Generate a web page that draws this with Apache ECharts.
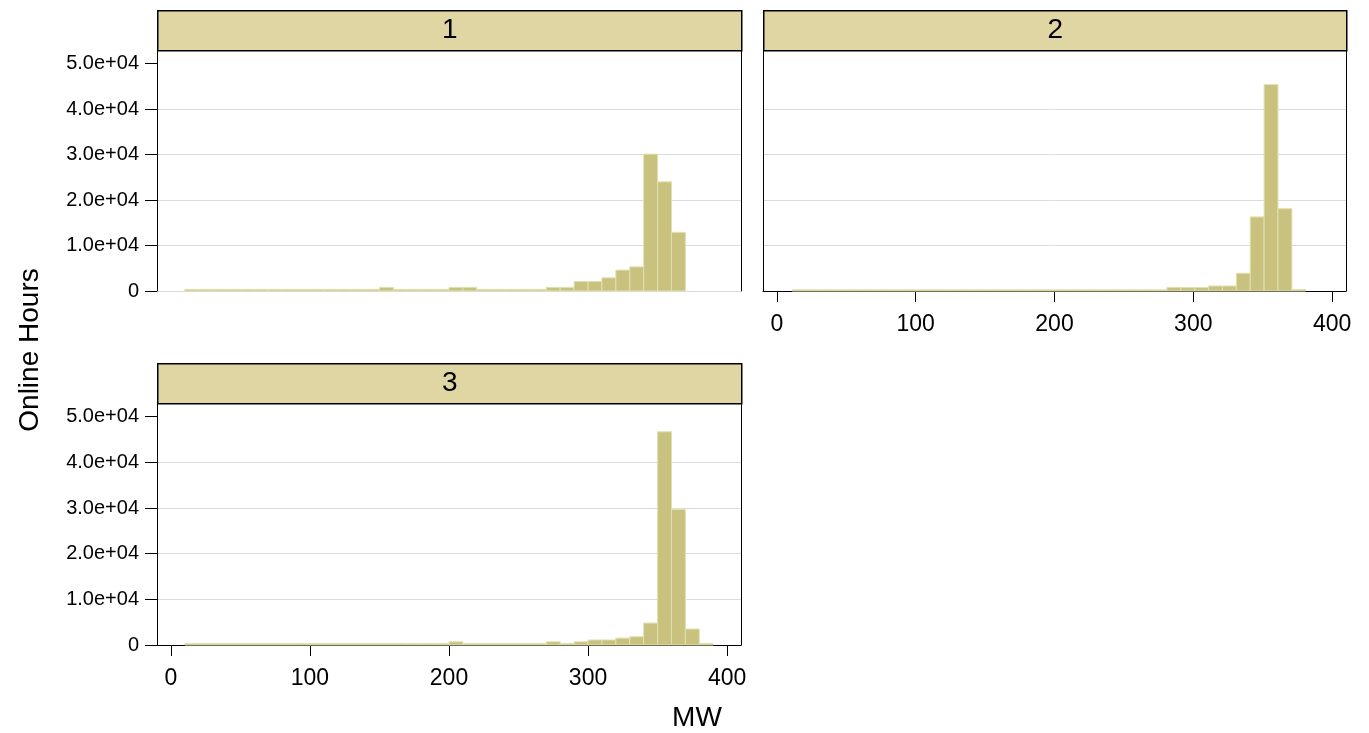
<!DOCTYPE html>
<html>
<head>
<meta charset="utf-8">
<script src="https://cdn.jsdelivr.net/npm/echarts@6/dist/echarts.min.js"></script>
<style>
html,body{margin:0;padding:0;background:#fff;}
#chart{width:1369px;height:733px;}
</style>
</head>
<body>
<div id="chart"></div>
<script>
// ---- data ----
const panelNames = ['1', '2', '3'];
const binWidth = 10;

// Panel 1: bins 10..370 (left edges)
const bins1 = [10,20,30,40,50,60,70,80,90,100,110,120,130,140,150,160,170,180,190,200,210,220,230,240,250,260,270,280,290,300,310,320,330,340,350,360];
const counts1 = [350,350,350,350,350,350,350,350,350,350,350,350,350,350,800,350,350,350,350,800,800,350,350,350,350,350,800,800,2100,2100,2900,4600,5300,30100,24000,12900];

// Panel 2: bins 11..381 (left edges)
const bins2 = [11,21,31,41,51,61,71,81,91,101,111,121,131,141,151,161,171,181,191,201,211,221,231,241,251,261,271,281,291,301,311,321,331,341,351,361,371];
const counts2 = [250,250,250,250,250,250,250,250,250,250,250,250,250,250,250,250,250,250,250,250,250,250,250,250,250,250,250,800,750,750,1100,1100,3900,16300,45400,18100,300];

// Panel 3: bins 10..390 (left edges)
const bins3 = [10,20,30,40,50,60,70,80,90,100,110,120,130,140,150,160,170,180,190,200,210,220,230,240,250,260,270,280,290,300,310,320,330,340,350,360,370,380];
const counts3 = [300,300,300,300,300,300,300,300,300,300,300,300,300,300,300,300,300,300,300,700,300,300,300,300,300,300,700,300,700,1100,1100,1500,1800,4800,46700,29700,3500,300];

const xTicks = [0, 100, 200, 300, 400];
const yTicks = [0, 10000, 20000, 30000, 40000, 50000];
const xTitle = 'MW';
const yTitle = 'Online Hours';

// ---- styles ----
const FONT = 'Liberation Sans, Arial, sans-serif';
const barFill = '#c8c27e';
const barStroke = '#e2dfb2';
const stripFill = '#e0d6a3';
const gridGrey = '#dcdcdc';

const grids = [
  {left: 157, top: 50, width: 584, height: 241},
  {left: 763, top: 50, width: 583, height: 241},
  {left: 157, top: 403, width: 584, height: 242}
];

function fmtY(v) {
  if (v === 0) return '0';
  let s = v.toExponential(1);
  return s.replace(/e([+-])(\d)$/, 'e$10$2');
}

const chart = echarts.init(document.getElementById('chart'), null, {renderer: 'canvas'});

const xAxes = [], yAxes = [], series = [];
const panelData = [[bins1, counts1], [bins2, counts2], [bins3, counts3]];
const showXLabels = [false, true, true];
const showYLabels = [true, false, true];

panelData.forEach(([bins, counts], i) => {
  xAxes.push({
    type: 'value', gridIndex: i, min: -10, max: 410, position: 'bottom',
    axisLine: {show: showXLabels[i], onZero: false, lineStyle: {color: '#000', width: 1}},
    axisTick: {show: showXLabels[i], length: 11, lineStyle: {color: '#000'}, customValues: xTicks},
    axisLabel: {show: showXLabels[i], customValues: xTicks, color: '#000', fontSize: 23, fontFamily: FONT, margin: 22},
    splitLine: {show: false}
  });
  yAxes.push({
    type: 'value', gridIndex: i, min: 0, max: 53000, interval: 10000, position: 'left',
    axisLine: {show: true, onZero: false, lineStyle: {color: '#000', width: 1}},
    axisTick: {show: showYLabels[i], length: 12, lineStyle: {color: '#000'}, customValues: yTicks},
    axisLabel: {show: showYLabels[i], customValues: yTicks, formatter: fmtY, color: '#000', fontSize: 20, fontFamily: FONT, margin: 18},
    splitLine: {show: true, showMaxLine: false, lineStyle: {color: gridGrey, width: 1}}
  });
  yAxes.push({
    type: 'value', gridIndex: i, min: 0, max: 53000, position: 'right',
    axisLine: {show: true, onZero: false, lineStyle: {color: '#000', width: 1}},
    axisTick: {show: false}, axisLabel: {show: false}, splitLine: {show: false}
  });
  const data = bins.map((b, k) => [b, b + binWidth, counts[k]]);
  series.push({
    type: 'custom', xAxisIndex: i, yAxisIndex: 2 * i,
    data: data,
    encode: {x: [0, 1], y: 2},
    renderItem: function (params, api) {
      const p0 = api.coord([api.value(0), api.value(2)]);
      const p1 = api.coord([api.value(1), 0]);
      return {
        type: 'rect',
        shape: {x: p0[0], y: p0[1], width: p1[0] - p0[0], height: p1[1] - p0[1]},
        style: {fill: barFill, stroke: barStroke, lineWidth: 1}
      };
    },
    silent: true
  });
});

// strips
const graphics = [];
grids.forEach((g, i) => {
  graphics.push({
    type: 'group', left: g.left, top: g.top - 40,
    children: [
      {type: 'rect', shape: {x: 0, y: 0, width: g.width, height: 40},
       style: {fill: stripFill, stroke: '#000', lineWidth: 1.5}},
      {type: 'text', x: g.width / 2, y: 20,
       style: {text: panelNames[i], fontSize: 28, fontFamily: FONT, fill: '#000', align: 'center', verticalAlign: 'middle'}}
    ]
  });
});
graphics.push({type: 'text', x: 30, y: 350, rotation: Math.PI / 2,
  style: {text: yTitle, fontSize: 28, fontFamily: FONT, fill: '#000', align: 'center', verticalAlign: 'middle'}});
graphics.push({type: 'text', x: 697, y: 718,
  style: {text: xTitle, fontSize: 28, fontFamily: FONT, fill: '#000', align: 'center', verticalAlign: 'middle'}});

chart.setOption({
  animation: false,
  backgroundColor: '#fff',
  grid: grids.map(g => Object.assign({containLabel: false}, g)),
  xAxis: xAxes,
  yAxis: yAxes,
  series: series,
  graphic: graphics
});
</script>
</body>
</html>
